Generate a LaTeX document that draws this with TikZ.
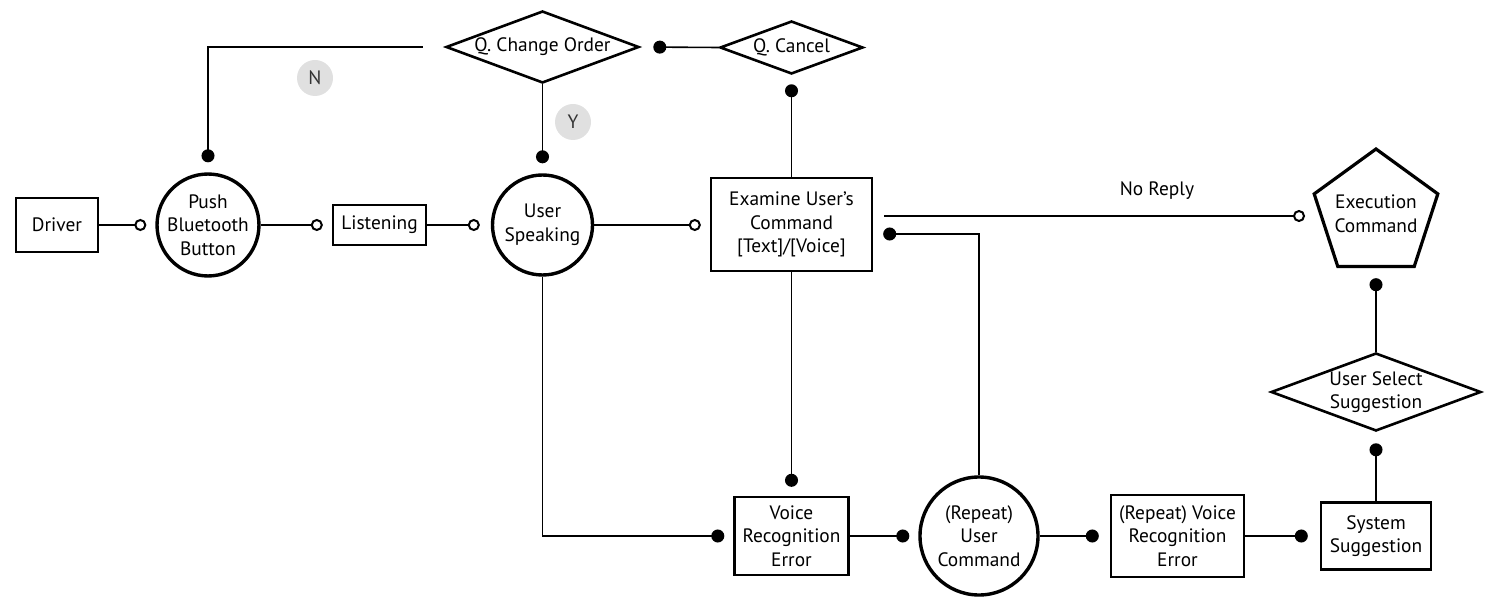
\documentclass[tikz,border=0pt]{standalone}
\usepackage{fontspec}
\setmainfont{PT Sans}
\usetikzlibrary{shapes.geometric,arrows.meta,calc}
\begin{document}
\begin{tikzpicture}[x=0.5pt,y=-0.5pt,
  every node/.style={font=\fontsize{9.7}{11.8}\selectfont, align=center, inner sep=0pt},
  boxnode/.style={draw, line width=1.2pt, rectangle},
  circnode/.style={draw, line width=1.7pt, circle},
  dia/.style={draw, line width=1.3pt, diamond, aspect=2.7},
  pent/.style={draw, line width=1.6pt, regular polygon, regular polygon sides=5},
  badge/.style={circle, fill=black!12, text=black!80, minimum size=18pt},
  conn/.style={line width=0.8pt},
  odot/.style={-{Circle[open,length=6pt,width=6pt,line width=1pt]}},
  fdot/.style={-{Circle[length=6.5pt,width=6.5pt]}},
]
\useasboundingbox (0,0) rectangle (1500,604);

% nodes
\node[boxnode, minimum width=41pt, minimum height=27pt] (driver) at (57,225) {Driver};
\node[circnode, minimum size=50pt] (push) at (208,225) {Push\\Bluetooth\\Button};
\node[boxnode, minimum width=46.5pt, minimum height=20pt] (listen) at (379.5,225) {Listening};
\node[circnode, minimum size=50pt] (us) at (542.5,225) {User\\Speaking};
\node[boxnode, minimum width=80.5pt, minimum height=46.5pt] (exam) at (791.5,224.5) {Examine User’s\\Command\\{}[Text]/[Voice]};
\node[dia, minimum width=96.5pt, minimum height=36pt] (qco) at (542.5,47) {Q. Change Order};
\node[dia, minimum width=71.5pt, minimum height=26.5pt] (qc) at (791.5,47.5) {Q. Cancel};
\node[pent, minimum size=65pt] (exec) at (1376,214) {};
\node (exectext) at (exec.center) {Execution\\Command};
\node[dia, minimum width=105pt, minimum height=39pt] (uss) at (1376,392) {User Select\\Suggestion};
\node[boxnode, minimum width=57pt, minimum height=39pt] (vre) at (791.5,536) {Voice\\Recognition\\Error};
\node[circnode, minimum size=59pt] (rep) at (979,536) {(Repeat)\\User\\Command};
\node[boxnode, minimum width=66.5pt, minimum height=41pt] (rvre) at (1177.5,536) {(Repeat) Voice\\Recognition\\Error};
\node[boxnode, minimum width=55pt, minimum height=33.5pt] (sys) at (1376,536) {System\\Suggestion};
\node[badge] (n) at (315,78) {N};
\node[badge] (y) at (573,122) {Y};
\node (noreply) at (1157,191) {No Reply};

\coordinate (examU) at ($(exam.east)+(0,-8.5)$);
\coordinate (examD) at ($(exam.east)+(0,9.5)$);

% connectors
\draw[conn, odot, shorten >=4.5pt] (driver.east) -- (push.west);
\draw[conn, odot, shorten >=4.5pt] (push.east) -- (listen.west);
\draw[conn, odot, shorten >=5.5pt] (listen.east) -- (us.west);
\draw[conn, odot, shorten >=4.5pt] (us.east) -- (exam.west |- us.east);
\draw[conn, fdot, shorten >=5pt] (qco.south) -- (us.north);
\draw[conn, fdot, shorten <=11pt, shorten >=5pt] (qco.west) -| (push.north);
\draw[conn, fdot, shorten >=6.5pt] (qc.west) -- (qco.east);
\draw[conn, fdot, shorten >=4.5pt] (exam.north) -- (qc.south);
\draw[conn, odot, shorten <=5.5pt, shorten >=7pt] (examU) -- (examU -| exec.west);
\draw[conn, fdot, shorten >=5pt] (rep.north) |- (examD);
\draw[conn, fdot, shorten >=4.5pt] (exam.south) -- (vre.north);
\draw[conn, fdot, shorten >=4.5pt] (us.south) |- (vre.west);
\draw[conn, fdot, shorten >=4.5pt] (vre.east) -- (rep.west);
\draw[conn, fdot, shorten >=5.5pt] (rep.east) -- (rvre.west);
\draw[conn, fdot, shorten >=6pt] (rvre.east) -- (sys.west);
\draw[conn, fdot, shorten >=5.5pt] (sys.north) -- (uss.south);
\draw[conn, fdot, shorten >=5pt] (uss.north) -- (exec.south);
\end{tikzpicture}
\end{document}
